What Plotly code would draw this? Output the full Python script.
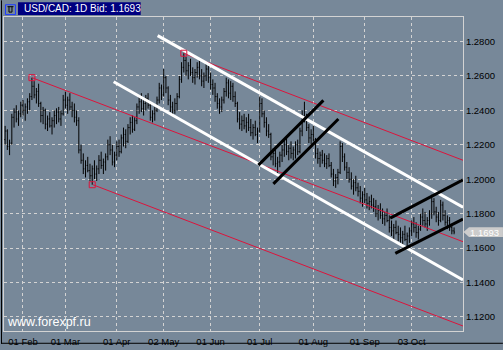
import plotly.graph_objects as go

# ---------------- data ----------------
bar_index = list(range(202))
opens = [1.2230,1.2280,1.2190,1.2210,1.2360,1.2390,1.2350,1.2380,1.2430,1.2400,
1.2420,1.2450,1.2480,1.2540,1.2490,1.2510,1.2440,1.2370,1.2400,1.2320,
1.2350,1.2310,1.2340,1.2370,1.2390,1.2350,1.2380,1.2460,1.2430,1.2460,
1.2420,1.2400,1.2360,1.2340,1.2170,1.2110,1.2060,1.2080,1.2050,1.2020,
1.2060,1.2030,1.2060,1.2110,1.2080,1.2100,1.2130,1.2200,1.2170,1.2100,
1.2140,1.2190,1.2160,1.2240,1.2260,1.2220,1.2300,1.2330,1.2290,1.2340,
1.2420,1.2450,1.2410,1.2440,1.2470,1.2430,1.2360,1.2380,1.2400,1.2460,
1.2530,1.2490,1.2590,1.2530,1.2460,1.2420,1.2400,1.2440,1.2480,1.2580,
1.2650,1.2690,1.2630,1.2660,1.2620,1.2590,1.2620,1.2650,1.2600,1.2570,
1.2600,1.2640,1.2590,1.2550,1.2530,1.2480,1.2440,1.2420,1.2460,1.2510,
1.2560,1.2500,1.2540,1.2480,1.2440,1.2350,1.2320,1.2340,1.2310,1.2330,
1.2300,1.2270,1.2300,1.2260,1.2280,1.2440,1.2380,1.2330,1.2280,1.2260,
1.2130,1.2150,1.2090,1.2100,1.2140,1.2170,1.2200,1.2160,1.2180,1.2150,
1.2170,1.2200,1.2160,1.2280,1.2370,1.2350,1.2300,1.2240,1.2260,1.2230,
1.2150,1.2120,1.2140,1.2110,1.2090,1.2120,1.2080,1.2030,1.1990,1.2010,
1.2040,1.2190,1.2130,1.2070,1.2040,1.2000,1.1960,1.1980,1.1950,1.1930,
1.1890,1.1910,1.1880,1.1860,1.1870,1.1850,1.1840,1.1800,1.1820,1.1790,
1.1770,1.1790,1.1760,1.1720,1.1700,1.1720,1.1690,1.1680,1.1660,1.1680,
1.1650,1.1670,1.1700,1.1740,1.1720,1.1690,1.1710,1.1780,1.1760,1.1740,
1.1760,1.1800,1.1870,1.1810,1.1780,1.1760,1.1850,1.1790,1.1750,1.1760,
1.1720,1.1700]
highs = [1.2310,1.2290,1.2230,1.2380,1.2412,1.2430,1.2400,1.2450,1.2460,1.2440,
1.2470,1.2500,1.2590,1.2570,1.2530,1.2555,1.2450,1.2420,1.2410,1.2370,
1.2390,1.2360,1.2400,1.2412,1.2420,1.2400,1.2490,1.2510,1.2480,1.2500,
1.2450,1.2440,1.2400,1.2360,1.2200,1.2150,1.2110,1.2130,1.2090,1.2080,
1.2110,1.2080,1.2140,1.2160,1.2120,1.2150,1.2230,1.2250,1.2200,1.2160,
1.2220,1.2230,1.2260,1.2300,1.2290,1.2320,1.2360,1.2370,1.2360,1.2440,
1.2480,1.2500,1.2460,1.2490,1.2500,1.2440,1.2400,1.2420,1.2480,1.2560,
1.2550,1.2640,1.2600,1.2540,1.2490,1.2450,1.2470,1.2500,1.2600,1.2680,
1.2732,1.2710,1.2680,1.2700,1.2650,1.2640,1.2680,1.2690,1.2640,1.2620,
1.2670,1.2660,1.2620,1.2580,1.2560,1.2500,1.2470,1.2480,1.2530,1.2590,
1.2580,1.2570,1.2560,1.2510,1.2450,1.2390,1.2370,1.2380,1.2360,1.2380,
1.2350,1.2320,1.2340,1.2300,1.2480,1.2470,1.2400,1.2360,1.2320,1.2270,
1.2180,1.2190,1.2130,1.2160,1.2200,1.2230,1.2240,1.2200,1.2220,1.2190,
1.2220,1.2230,1.2300,1.2400,1.2450,1.2380,1.2320,1.2290,1.2310,1.2240,
1.2180,1.2160,1.2170,1.2150,1.2140,1.2150,1.2100,1.2060,1.2030,1.2060,
1.2220,1.2210,1.2150,1.2100,1.2070,1.2040,1.2000,1.2020,1.1980,1.1960,
1.1930,1.1950,1.1920,1.1900,1.1910,1.1890,1.1880,1.1850,1.1860,1.1830,
1.1810,1.1830,1.1790,1.1760,1.1740,1.1760,1.1730,1.1720,1.1700,1.1730,
1.1690,1.1720,1.1760,1.1780,1.1750,1.1730,1.1800,1.1830,1.1810,1.1780,
1.1820,1.1910,1.1890,1.1840,1.1810,1.1880,1.1870,1.1820,1.1790,1.1780,
1.1740,1.1720]
lows = [1.2200,1.2170,1.2140,1.2200,1.2300,1.2330,1.2310,1.2360,1.2370,1.2340,
1.2380,1.2400,1.2460,1.2470,1.2440,1.2420,1.2330,1.2320,1.2290,1.2280,
1.2300,1.2260,1.2300,1.2320,1.2330,1.2310,1.2370,1.2410,1.2380,1.2400,
1.2360,1.2330,1.2310,1.2150,1.2090,1.2030,1.2010,1.2040,1.1990,1.1968,
1.2000,1.1990,1.2030,1.2060,1.2030,1.2050,1.2110,1.2140,1.2080,1.2070,
1.2110,1.2130,1.2150,1.2190,1.2180,1.2210,1.2260,1.2270,1.2280,1.2320,
1.2380,1.2390,1.2370,1.2400,1.2410,1.2340,1.2330,1.2340,1.2390,1.2440,
1.2460,1.2480,1.2500,1.2430,1.2390,1.2370,1.2380,1.2400,1.2470,1.2560,
1.2620,1.2600,1.2580,1.2600,1.2560,1.2550,1.2590,1.2580,1.2540,1.2530,
1.2570,1.2560,1.2520,1.2490,1.2450,1.2410,1.2380,1.2390,1.2440,1.2480,
1.2470,1.2460,1.2450,1.2420,1.2330,1.2290,1.2280,1.2290,1.2270,1.2280,
1.2250,1.2230,1.2250,1.2210,1.2270,1.2360,1.2300,1.2250,1.2240,1.2110,
1.2080,1.2070,1.2030,1.2070,1.2100,1.2130,1.2140,1.2110,1.2120,1.2110,
1.2120,1.2140,1.2150,1.2250,1.2330,1.2280,1.2210,1.2200,1.2220,1.2120,
1.2090,1.2070,1.2090,1.2070,1.2060,1.2070,1.2010,1.1960,1.1950,1.1970,
1.2030,1.2100,1.2050,1.2000,1.1980,1.1940,1.1910,1.1930,1.1900,1.1860,
1.1840,1.1860,1.1830,1.1820,1.1830,1.1810,1.1780,1.1760,1.1770,1.1740,
1.1730,1.1750,1.1690,1.1670,1.1650,1.1680,1.1640,1.1630,1.1620,1.1640,
1.1610,1.1630,1.1670,1.1690,1.1660,1.1650,1.1700,1.1730,1.1720,1.1700,
1.1730,1.1770,1.1790,1.1750,1.1730,1.1750,1.1760,1.1730,1.1710,1.1700,
1.1680,1.1680]
closes = [1.2280,1.2190,1.2210,1.2360,1.2390,1.2350,1.2380,1.2430,1.2400,1.2420,
1.2450,1.2480,1.2540,1.2490,1.2510,1.2440,1.2370,1.2400,1.2320,1.2350,
1.2310,1.2340,1.2370,1.2390,1.2350,1.2380,1.2460,1.2430,1.2460,1.2420,
1.2400,1.2360,1.2340,1.2170,1.2110,1.2060,1.2080,1.2050,1.2020,1.2060,
1.2030,1.2060,1.2110,1.2080,1.2100,1.2130,1.2200,1.2170,1.2100,1.2140,
1.2190,1.2160,1.2240,1.2260,1.2220,1.2300,1.2330,1.2290,1.2340,1.2420,
1.2450,1.2410,1.2440,1.2470,1.2430,1.2360,1.2380,1.2400,1.2460,1.2530,
1.2490,1.2590,1.2530,1.2460,1.2420,1.2400,1.2440,1.2480,1.2580,1.2650,
1.2690,1.2630,1.2660,1.2620,1.2590,1.2620,1.2650,1.2600,1.2570,1.2600,
1.2640,1.2590,1.2550,1.2530,1.2480,1.2440,1.2420,1.2460,1.2510,1.2560,
1.2500,1.2540,1.2480,1.2440,1.2350,1.2320,1.2340,1.2310,1.2330,1.2300,
1.2270,1.2300,1.2260,1.2280,1.2440,1.2380,1.2330,1.2280,1.2260,1.2130,
1.2150,1.2090,1.2100,1.2140,1.2170,1.2200,1.2160,1.2180,1.2150,1.2170,
1.2200,1.2160,1.2280,1.2370,1.2350,1.2300,1.2240,1.2260,1.2230,1.2150,
1.2120,1.2140,1.2110,1.2090,1.2120,1.2080,1.2030,1.1990,1.2010,1.2040,
1.2190,1.2130,1.2070,1.2040,1.2000,1.1960,1.1980,1.1950,1.1930,1.1890,
1.1910,1.1880,1.1860,1.1870,1.1850,1.1840,1.1800,1.1820,1.1790,1.1770,
1.1790,1.1760,1.1720,1.1700,1.1720,1.1690,1.1680,1.1660,1.1680,1.1650,
1.1670,1.1700,1.1740,1.1720,1.1690,1.1710,1.1780,1.1760,1.1740,1.1760,
1.1800,1.1870,1.1810,1.1780,1.1760,1.1850,1.1790,1.1750,1.1760,1.1720,
1.1700,1.1693]

x_tick_idx = [8, 27, 50, 71, 92, 114, 138, 161, 182]
x_tick_labels = ["01 Feb", "01 Mar", "01 Apr", "02 May", "01 Jun", "01 Jul", "01 Aug", "01 Sep", "03 Oct"]
y_ticks = [1.12, 1.14, 1.16, 1.18, 1.20, 1.22, 1.24, 1.26, 1.28]

# drawn objects: (bar index, price) end points
white_lines = [[(68.3, 1.2834), (205.0, 1.1837)],
               [(48.6, 1.2566), (205.0, 1.1415)]]
red_lines = [[(12.0, 1.2590), (205.0, 1.1637)],
             [(79.9, 1.2732), (205.0, 1.2110)],
             [(39.3, 1.1968), (205.0, 1.1147)]]
black_lines = [[(113.4, 1.2082), (142.5, 1.2458)],
               [(120.1, 1.1973), (149.2, 1.2350)],
               [(172.4, 1.1774), (205.0, 1.1996)],
               [(174.7, 1.1569), (205.0, 1.1768)]]
marker_idx = [12, 39, 80]
marker_price = [1.2590, 1.1968, 1.2732]

symbol_title = "USD/CAD: 1D Bid: 1.1693"
watermark = "www.forexpf.ru"

# ---------------- figure ----------------
BG = "#778899"
GRID = "#D3D3D3"
RED = "#DC143C"
FONT = "Liberation Sans, Arial, sans-serif"

fig = go.Figure()
fig.add_trace(go.Ohlc(x=bar_index, open=opens, high=highs, low=lows, close=closes,
                      increasing=dict(line=dict(color="black", width=1)),
                      decreasing=dict(line=dict(color="black", width=1)),
                      tickwidth=0.35, showlegend=False, hoverinfo="skip"))

def add_lines(lines, color, width):
    for (a, b) in lines:
        fig.add_trace(go.Scatter(x=[a[0], b[0]], y=[a[1], b[1]], mode="lines",
                                 line=dict(color=color, width=width),
                                 showlegend=False, hoverinfo="skip"))

add_lines(red_lines, RED, 1)
add_lines(white_lines, "white", 3)
add_lines(black_lines, "black", 3)
fig.add_trace(go.Scatter(x=marker_idx, y=marker_price, mode="markers",
                         marker=dict(symbol="square-open", size=6, color=RED, line=dict(width=1, color=RED)),
                         showlegend=False, hoverinfo="skip"))

W, H = 503, 350
L, R, T, B = 3, 40, 17, 13
pw, ph = W - L - R, H - T - B
def px(xp):
    return (xp - L) / pw
def py(yp):
    return (H - B - yp) / ph

last = closes[-1]
hh = 5 * (1.29425 - 1.11181) / ph
tag_path = (f"M {px(463.5)},{last} L {px(469)},{last + hh} L {px(503)},{last + hh} "
            f"L {px(503)},{last - hh} L {px(469)},{last - hh} Z")

shapes = [
    dict(type="path", xref="paper", yref="y", path=tag_path, fillcolor="#CCCCCC", line=dict(width=0)),
    dict(type="rect", xref="paper", yref="paper", x0=px(17), x1=px(140), y0=py(15), y1=py(2),
         fillcolor="#000080", line=dict(width=0)),
    dict(type="rect", xref="paper", yref="paper", x0=px(4.5), x1=px(14.5), y0=py(14.5), y1=py(4.5),
         fillcolor="rgba(0,0,0,0)", line=dict(color="#1E3CFF", width=1)),
    dict(type="path", xref="paper", yref="paper",
         path=f"M {px(6.5)},{py(6.5)} L {px(12.5)},{py(6.5)} M {px(8)},{py(6.5)} L {px(8)},{py(12)} "
              f"L {px(11)},{py(12)} L {px(11)},{py(6.5)}",
         line=dict(color="black", width=1)),
    dict(type="line", xref="paper", yref="paper", x0=px(0.5), x1=px(0.5), y0=py(350), y1=py(0),
         line=dict(color="black", width=1)),
    dict(type="line", xref="paper", yref="paper", x0=px(0), x1=px(503), y0=py(349.5), y1=py(349.5),
         line=dict(color="black", width=1)),
]

annotations = [
    dict(text=symbol_title, xref="paper", yref="paper", x=px(21), y=py(8.8), xanchor="left",
         yanchor="middle", showarrow=False, font=dict(color="white", size=10, family=FONT)),
    dict(text=f"{last:.4f}", xref="paper", yref="y", x=px(468), y=last, xanchor="left",
         yanchor="middle", showarrow=False, font=dict(color="white", size=9.5, family=FONT)),
    dict(text=watermark, xref="paper", yref="paper", x=px(4), y=py(328), xanchor="left",
         yanchor="middle", showarrow=False, font=dict(color="white", size=12.5, family=FONT)),
]

fig.update_layout(
    width=W, height=H, margin=dict(l=L, r=R, t=T, b=B, pad=0),
    paper_bgcolor=BG, plot_bgcolor=BG,
    font=dict(family=FONT, size=9.5, color="black"),
    showlegend=False, shapes=shapes, annotations=annotations,
    xaxis=dict(range=[-0.5, 205.0], tickvals=x_tick_idx, ticktext=x_tick_labels,
               showgrid=True, gridcolor=GRID, griddash="dot", gridwidth=1,
               showline=True, mirror=True, linecolor=GRID, linewidth=1,
               ticks="", ticklabelstandoff=2, zeroline=False, rangeslider=dict(visible=False),
               tickfont=dict(size=9.5, color="black")),
    yaxis=dict(range=[1.11181, 1.29425], side="right", tickvals=y_ticks, tickformat=".4f",
               showgrid=True, gridcolor=GRID, griddash="dot", gridwidth=1,
               showline=True, mirror=True, linecolor=GRID, linewidth=1,
               ticks="", zeroline=False, tickfont=dict(size=9.5, color="black")),
)

fig.write_html("out.html")
